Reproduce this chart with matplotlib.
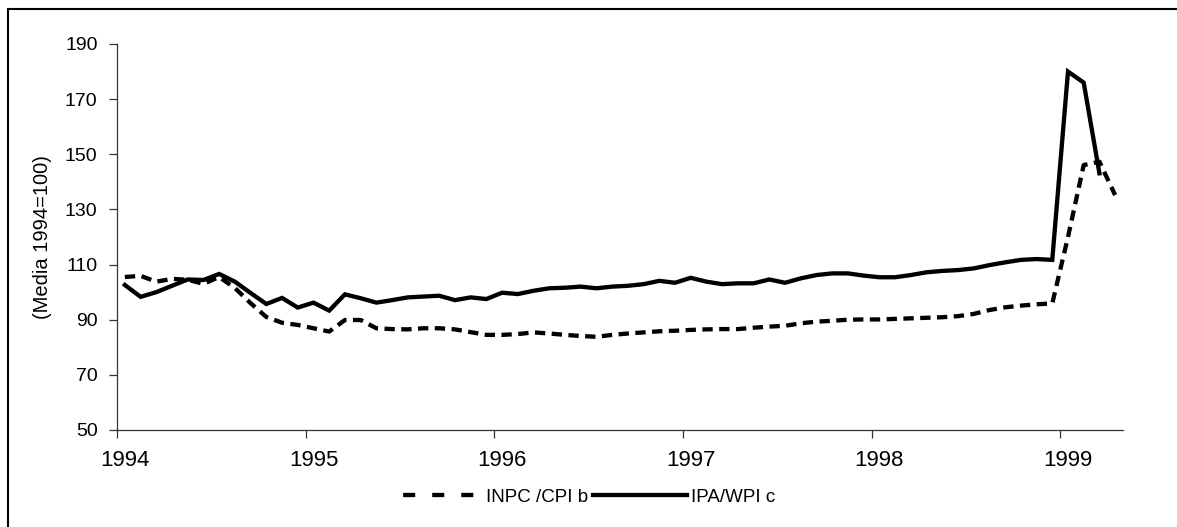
import numpy as np
import matplotlib
matplotlib.use("Agg")
import matplotlib.pyplot as plt
from matplotlib.lines import Line2D
from matplotlib.patches import Rectangle

plt.rcParams["font.family"] = ["Liberation Sans", "DejaVu Sans"]

# Monthly index values, Jan 1994 - Apr 1999 (average 1994 = 100)
years = ["1994", "1995", "1996", "1997", "1998", "1999"]
inpc_cpi = [
    105.5, 105.9, 103.8, 104.8, 104.5, 103.0, 105.5, 101.5, 96.0, 91.0, 88.9, 88.1,
    86.9, 85.7, 89.9, 89.9, 86.9, 86.6, 86.5, 86.9, 86.9, 86.5, 85.5, 84.5,
    84.5, 84.8, 85.4, 85.0, 84.5, 84.1, 83.8, 84.5, 85.0, 85.4, 85.8, 86.0,
    86.3, 86.5, 86.6, 86.6, 87.1, 87.5, 87.8, 88.7, 89.3, 89.6, 90.0, 90.1,
    90.1, 90.3, 90.5, 90.7, 90.9, 91.3, 92.1, 93.5, 94.5, 95.1, 95.6, 95.9,
    120.0, 146.1, 147.3, 135.2,
]
ipa_wpi = [
    102.6, 98.3, 100.0, 102.3, 104.6, 104.4, 106.6, 103.8, 99.7, 95.7, 97.9, 94.4,
    96.2, 93.3, 99.2, 97.8, 96.2, 97.1, 98.1, 98.4, 98.7, 97.1, 98.1, 97.5,
    99.8, 99.3, 100.5, 101.4, 101.6, 102.0, 101.4, 102.0, 102.3, 102.9, 104.1, 103.4,
    105.2, 103.8, 102.9, 103.2, 103.2, 104.6, 103.4, 105.0, 106.2, 106.8, 106.8, 106.0,
    105.4, 105.4, 106.2, 107.2, 107.7, 108.0, 108.6, 109.8, 110.8, 111.7, 112.0, 111.7,
    180.0, 176.0, 143.1, np.nan,
]

months = np.arange(len(inpc_cpi))

fig = plt.figure(figsize=(11.77, 5.27), dpi=100)
ax = fig.add_axes([117 / 1177, 1 - 430 / 527, (1123 - 117) / 1177, (430 - 44) / 527])

lw = 3.1
ax.plot(months, inpc_cpi, color="black", linewidth=lw, linestyle=(0, (2.4, 1.5)),
        dash_capstyle="butt")
ax.plot(months, ipa_wpi, color="black", linewidth=lw, solid_joinstyle="miter")

ax.set_xlim(-0.5, len(months) - 0.5)
ax.set_ylim(50, 190)
ax.set_yticks(np.arange(50, 191, 20))

# tick marks sit between categories, year labels sit on January
ax.set_xticks(np.arange(0, len(months) + 1, 12) - 0.5)
ax.set_xticklabels([])
ax.set_xticks(np.arange(0, len(months), 12), minor=True)
ax.set_xticklabels(years, minor=True)
ax.tick_params(axis="x", which="major", length=6, width=0.9, color="#333333")
ax.tick_params(axis="x", which="minor", length=0, pad=14.5, labelsize=16)
ax.tick_params(axis="y", length=6, width=0.9, color="#333333", pad=8, labelsize=14)

for side in ("top", "right"):
    ax.spines[side].set_visible(False)
for side in ("left", "bottom"):
    ax.spines[side].set_linewidth(0.9)
    ax.spines[side].set_color("#333333")

ax.set_ylabel("(Media 1994=100)", fontsize=14.5, labelpad=9)

handles = [
    Line2D([], [], color="black", linewidth=lw, linestyle=(3.0, (2.8, 3.95)), dash_capstyle="butt"),
    Line2D([], [], color="black", linewidth=lw),
]
fig.legend(handles, ["INPC /CPI b", "IPA/WPI c"], loc="center", bbox_to_anchor=(0.494, 1 - 497 / 527),
           ncol=2, frameon=False, fontsize=13.5, handlelength=5.05, handletextpad=0.2,
           columnspacing=0.25, borderpad=0.2)

# outer frame around the chart area
fig.add_artist(Rectangle((8 / 1177, -0.2), 1.2, 1.2 - 8.5 / 527, transform=fig.transFigure,
                         fill=False, edgecolor="black", linewidth=1.5, clip_on=False))

fig.savefig("out.png", dpi=100)
